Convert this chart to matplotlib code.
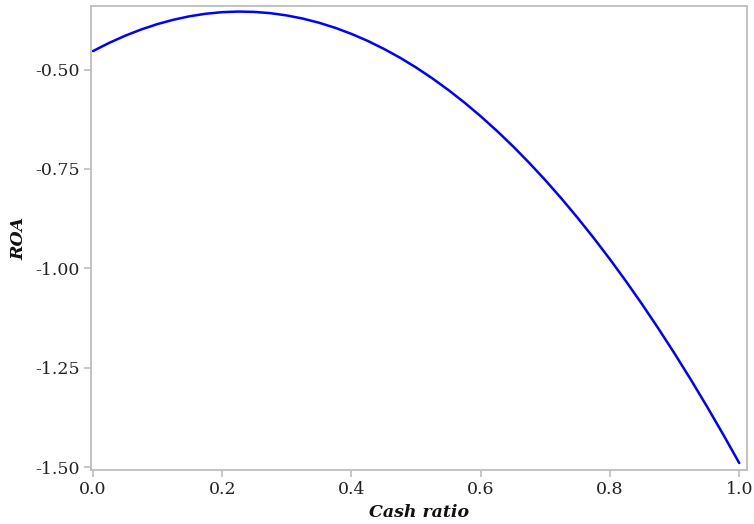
import matplotlib
matplotlib.use("Agg")
import matplotlib.pyplot as plt

cash_ratio = [0.000, 0.025, 0.050, 0.075, 0.100, 0.125, 0.150, 0.175, 0.200, 0.225,
              0.250, 0.275, 0.300, 0.325, 0.350, 0.375, 0.400, 0.425, 0.450, 0.475,
              0.500, 0.525, 0.550, 0.575, 0.600, 0.625, 0.650, 0.675, 0.700, 0.725,
              0.750, 0.775, 0.800, 0.825, 0.850, 0.875, 0.900, 0.925, 0.950, 0.975, 1.000]
roa = [-0.4535, -0.4329, -0.4147, -0.3989, -0.3854, -0.3744, -0.3657, -0.3594, -0.3555, -0.3540,
       -0.3549, -0.3581, -0.3638, -0.3718, -0.3822, -0.3950, -0.4102, -0.4277, -0.4477, -0.4700,
       -0.4947, -0.5219, -0.5514, -0.5832, -0.6175, -0.6541, -0.6931, -0.7346, -0.7783, -0.8246,
       -0.8732, -0.9241, -0.9774, -1.0331, -1.0912, -1.1518, -1.2146, -1.2799, -1.3476, -1.4176, -1.4900]
x_ticks = [0.0, 0.2, 0.4, 0.6, 0.8, 1.0]
x_tick_labels = ["0.0", "0.2", "0.4", "0.6", "0.8", "1.0"]
y_ticks = [-1.50, -1.25, -1.00, -0.75, -0.50]
y_tick_labels = ["-1.50", "-1.25", "-1.00", "-0.75", "-0.50"]

plt.rcParams['font.family'] = ['DejaVu Serif']

fig = plt.figure(figsize=(7.54, 5.24), dpi=100)
ax = fig.add_axes([91/754, 1-470/524, 656/754, 464/524])

ax.plot(cash_ratio, roa, color='#0000FF', lw=1.8, solid_capstyle='round',
        solid_joinstyle='round')

ax.set_xlim(-0.003, 1.012)
ax.set_ylim(-1.5075, -0.340)
ax.set_xticks(x_ticks)
ax.set_xticklabels(x_tick_labels)
ax.set_yticks(y_ticks)
ax.set_yticklabels(y_tick_labels)

for s in ax.spines.values():
    s.set_color('#BDBDBD')
    s.set_linewidth(1.3)

ax.tick_params(axis='both', colors='#BDBDBD', length=5, width=1.2, labelsize=12.5,
               labelcolor='#222222', pad=3)

ax.set_xlabel('Cash ratio', fontsize=12.5, fontweight='bold', fontstyle='italic',
              color='#111111', labelpad=4)
ax.set_ylabel('ROA', fontsize=12.5, fontweight='bold', fontstyle='italic',
              color='#111111', labelpad=6)

fig.savefig('out.png', dpi=100)
